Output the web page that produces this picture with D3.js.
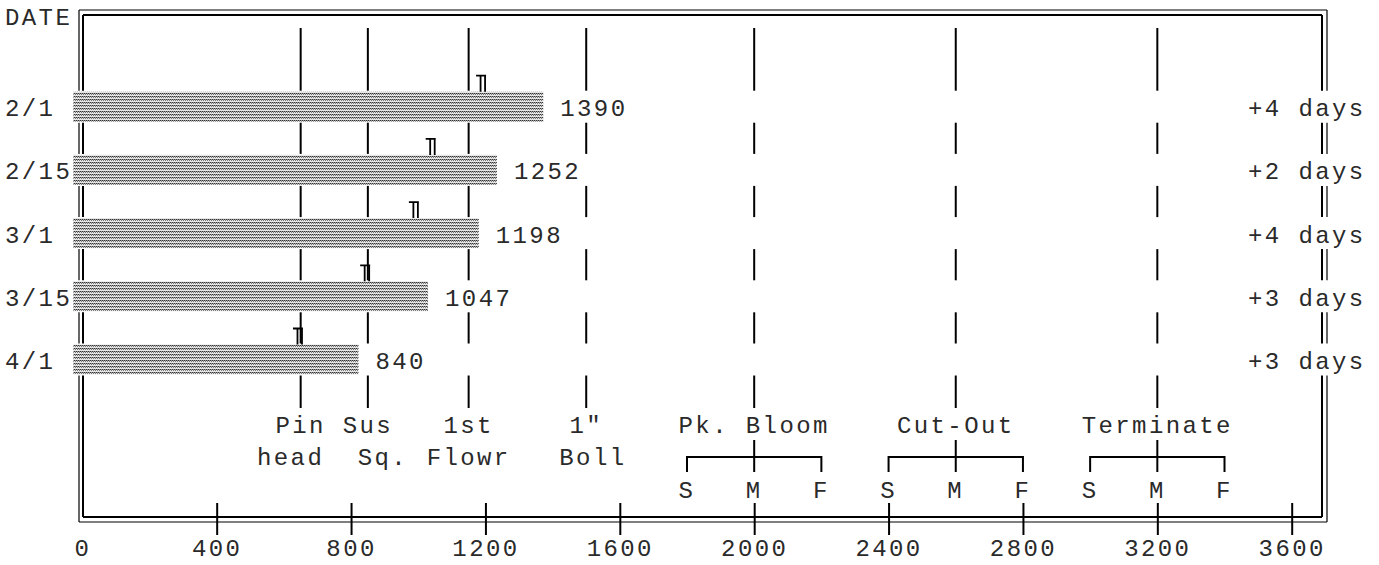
<!DOCTYPE html>
<html>
<head>
<meta charset="utf-8">
<script src="https://cdn.jsdelivr.net/npm/d3@7"></script>
<style>
  body { margin: 0; background: #fff; }
  svg text { font-family: "Liberation Mono", "DejaVu Sans Mono", monospace; font-size: 24px; fill: #2a2a2a; letter-spacing: 2.4px; }
</style>
</head>
<body>
<svg id="chart"></svg>
<script>
// planting dates and heat units to the 1st flower marker etc.
const dates = ['2/1', '2/15', '3/1', '3/15', '4/1'];
const totals = [1390, 1252, 1198, 1047, 840];
const markers = [1190, 1040, 990, 845, 645];
const extraDays = ['+4 days', '+2 days', '+4 days', '+3 days', '+3 days'];

const stageValues = [650, 850, 1150, 1500, 2000, 2600, 3200];
const stageLine1 = ['Pin', 'Sus', '1st', '1"', 'Pk. Bloom', 'Cut-Out', 'Terminate'];
const stageLine2 = ['head', 'Sq.', 'Flowr', 'Boll', '', '', ''];
const stageShift2 = [-0.6, 0.9, 0, 0.4, 0, 0, 0]; // in characters

const windowStart = [1800, 2400, 3000];
const windowMid = [2000, 2600, 3200];
const windowEnd = [2200, 2800, 3400];

const xTicks = [0, 400, 800, 1200, 1600, 2000, 2400, 2800, 3200, 3600];

const width = 1379, height = 565;
const charW = 16.8;
const bandHalf = 16;

const xScale = d3.scaleLinear().domain([0, 3600]).range([82.3, 1291.7]);
const yScale = d3.scalePoint().domain(dates).range([106.7, 359.5]);

const svg = d3.select('#chart')
    .attr('width', width)
    .attr('height', height);

// dotted bar fill
const defs = svg.append('defs');
const pat = defs.append('pattern')
    .attr('id', 'dots')
    .attr('patternUnits', 'userSpaceOnUse')
    .attr('width', 2).attr('height', 3);
pat.append('rect').attr('width', 2).attr('height', 3).attr('fill', '#e6e6e6');
pat.append('rect').attr('x', 0).attr('y', 0).attr('width', 1).attr('height', 1).attr('fill', '#333');
pat.append('rect').attr('x', 1).attr('y', 0).attr('width', 1).attr('height', 1).attr('fill', '#999');
pat.append('rect').attr('x', 1).attr('y', 1).attr('width', 1).attr('height', 1).attr('fill', '#777');

const lineTop = 28, lineBottom = 408;
const outer = {x0: 79, x1: 1327, y0: 10, y1: 522};
const inner = {x0: 83, x1: 1322, y0: 15, y1: 517};

// pieces of a vertical line that skip the data rows
function segments(top, bottom) {
  let out = [], start = top;
  dates.forEach(d => {
    out.push([start, yScale(d) - bandHalf]);
    start = yScale(d) + bandHalf;
  });
  out.push([start, bottom]);
  return out;
}

// frame, double line
const frame = svg.append('g').attr('class', 'frame').attr('fill', 'none').attr('stroke', '#000');
[[outer, 1.2], [inner, 2]].forEach(([b, w]) => {
  frame.append('path')
      .attr('stroke-width', w)
      .attr('d', `M${b.x0},${b.y1}H${b.x1}M${b.x0},${b.y0}H${b.x1}`);
  [b.x0, b.x1].forEach(xx => {
    segments(b.y0, b.y1).forEach(s => {
      frame.append('line')
          .attr('stroke-width', w)
          .attr('x1', xx).attr('x2', xx)
          .attr('y1', s[0]).attr('y2', s[1]);
    });
  });
});

// stage lines
const stages = svg.append('g').attr('class', 'stages').attr('stroke', '#000').attr('stroke-width', 2);
stageValues.forEach(v => {
  segments(lineTop, lineBottom).forEach(s => {
    stages.append('line')
        .attr('x1', xScale(v)).attr('x2', xScale(v))
        .attr('y1', s[0]).attr('y2', s[1]);
  });
});

svg.append('text')
    .attr('x', 5).attr('y', 17).attr('dy', '0.35em')
    .text('DATE');

// bars
const barLeft = xScale(0) - 9;
const barEnd = v => xScale(v) - 6;
svg.selectAll('rect.bar')
    .data(dates)
  .enter().append('rect')
    .attr('class', 'bar')
    .attr('x', barLeft)
    .attr('y', d => yScale(d) - 15)
    .attr('width', (d, i) => barEnd(totals[i]) - barLeft)
    .attr('height', 30)
    .attr('fill', 'url(#dots)');

svg.selectAll('text.date')
    .data(dates)
  .enter().append('text')
    .attr('class', 'date')
    .attr('x', 5)
    .attr('y', d => yScale(d) + 1)
    .attr('dy', '0.35em')
    .text(d => d);

svg.selectAll('text.total')
    .data(dates)
  .enter().append('text')
    .attr('class', 'total')
    .attr('x', (d, i) => barEnd(totals[i]) + 17)
    .attr('y', d => yScale(d) + 1)
    .attr('dy', '0.35em')
    .text((d, i) => totals[i]);

svg.selectAll('text.days')
    .data(dates)
  .enter().append('text')
    .attr('class', 'days')
    .attr('x', 1248)
    .attr('y', d => yScale(d) + 1)
    .attr('dy', '0.35em')
    .text((d, i) => extraDays[i]);

// little double-tick markers above each bar
svg.selectAll('path.marker')
    .data(dates)
  .enter().append('path')
    .attr('class', 'marker')
    .attr('fill', 'none')
    .attr('stroke', '#000')
    .attr('stroke-width', 1.8)
    .attr('d', (d, i) => {
      const mx = xScale(markers[i]);
      const top = yScale(d) - 31, bot = yScale(d) - 15;
      return `M${mx - 6},${top}H${mx + 4}M${mx - 1.5},${top}V${bot}M${mx + 3},${top}V${bot}`;
    });

// stage labels
svg.selectAll('text.stage1')
    .data(stageValues)
  .enter().append('text')
    .attr('class', 'stage1')
    .attr('x', d => xScale(d))
    .attr('y', 425).attr('dy', '0.35em')
    .attr('text-anchor', 'middle')
    .text((d, i) => stageLine1[i]);

svg.selectAll('text.stage2')
    .data(stageValues)
  .enter().append('text')
    .attr('class', 'stage2')
    .attr('x', (d, i) => xScale(d) + stageShift2[i] * charW)
    .attr('y', 457).attr('dy', '0.35em')
    .attr('text-anchor', 'middle')
    .text((d, i) => stageLine2[i]);

// S M F brackets
const brackets = svg.append('g').attr('fill', 'none').attr('stroke', '#000').attr('stroke-width', 2);
windowMid.forEach((m, i) => {
  const s = xScale(windowStart[i]), e = xScale(windowEnd[i]), c = xScale(m);
  brackets.append('path')
      .attr('d', `M${s},472V457H${e}V472M${c},440V472`);
  [[windowStart[i], 'S'], [m, 'M'], [windowEnd[i], 'F']].forEach(([v, t]) => {
    svg.append('text')
        .attr('x', xScale(v)).attr('y', 490).attr('dy', '0.35em')
        .attr('text-anchor', 'middle')
        .text(t);
  });
});

// x axis along the bottom frame
const axis = svg.append('g')
    .attr('transform', 'translate(0,' + inner.y1 + ')')
    .call(d3.axisBottom(xScale).tickValues(xTicks).tickFormat(d3.format('d')).tickSize(0).tickPadding(0));
axis.select('.domain').remove();
axis.selectAll('.tick line')
    .attr('stroke', '#000')
    .attr('stroke-width', 2)
    .attr('y1', -14).attr('y2', 18)
    .filter(d => d === 0).remove();
axis.selectAll('.tick text')
    .attr('y', 31)
    .attr('dy', '0.35em')
    .attr('fill', '#2a2a2a')
    .style('font-size', '24px')
    .style('font-family', '"Liberation Mono", monospace');
</script>
</body>
</html>
